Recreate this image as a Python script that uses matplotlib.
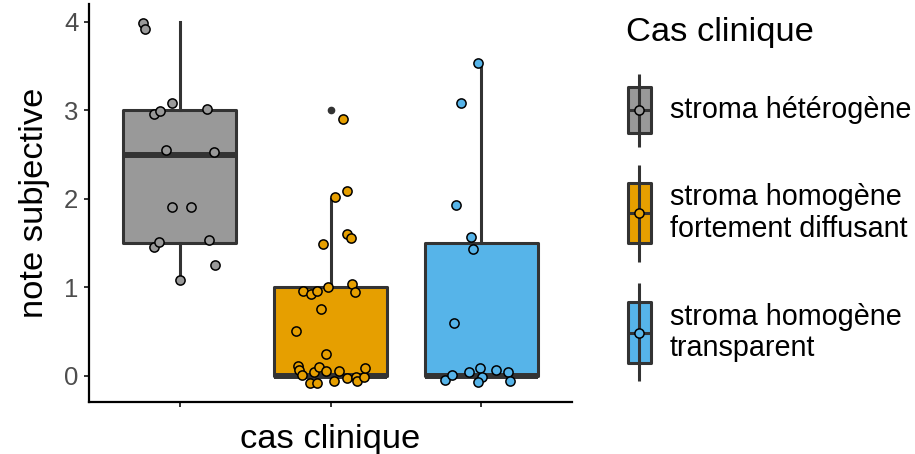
import numpy as np
import matplotlib
matplotlib.use("Agg")
import matplotlib.pyplot as plt
from matplotlib.patches import Rectangle

plt.rcParams['font.family'] = ['Liberation Sans', 'DejaVu Sans']

# groupes et couleurs
groups = ['stroma hétérogène', 'stroma homogène\nfortement diffusant', 'stroma homogène\ntransparent']
colors = ['#999999', '#E69F00', '#56B4E9']

# statistiques des boites
q1 = [1.5, 0.0, 0.0]
med = [2.5, 0.0, 0.0]
q3 = [3.0, 1.0, 1.5]
whislo = [1.08, 0.0, 0.0]
whishi = [4.0, 2.0, 3.5]
outliers = [[], [3.0], []]

# points jitter : decalage horizontal et note
jit_x1 = [-0.243, -0.228, -0.048, -0.171, -0.130, 0.184, -0.092, 0.228, -0.048, 0.079,
          -0.171, -0.138, 0.197, 0.237, 0.002]
jit_y1 = [3.99, 3.92, 3.08, 2.96, 2.99, 3.02, 2.55, 2.53, 1.91, 1.91,
          1.46, 1.51, 1.54, 1.25, 1.08]
jit_x2 = [0.081, 0.112, 0.031, 0.110, 0.134, -0.053, -0.018, 0.145, 0.164, -0.184,
          -0.132, -0.092, -0.061, -0.228, -0.033, -0.215, -0.209, -0.191, -0.136, -0.088,
          -0.110, -0.077, -0.028, 0.055, 0.024, 0.110, 0.169, 0.176, 0.219, 0.226]
jit_y2 = [2.90, 2.09, 2.02, 1.60, 1.56, 1.49, 1.00, 1.04, 0.95, 0.96,
          0.93, 0.96, 0.76, 0.51, 0.25, 0.11, 0.07, 0.01, -0.08, -0.08,
          0.04, 0.10, 0.06, 0.06, -0.06, -0.02, -0.01, -0.06, -0.01, 0.09]
jit_x3 = [-0.022, -0.138, -0.169, -0.072, -0.055, -0.184, -0.243, -0.193, -0.084, -0.007,
          0.007, -0.022, 0.097, 0.173, 0.191]
jit_y3 = [3.54, 3.08, 1.93, 1.57, 1.44, 0.60, -0.05, 0.01, 0.05, 0.09,
          -0.01, -0.07, 0.07, 0.05, -0.06]

jit_x = [jit_x1, jit_x2, jit_x3]
jit_y = [jit_y1, jit_y2, jit_y3]

W, H = 915, 454
fig = plt.figure(figsize=(W / 100, H / 100), dpi=100)
ax = fig.add_axes([89 / W, 1 - 402 / H, (572 - 89) / W, (402 - 4) / H])

edge = '#333333'
stats = []
for i in range(3):
    stats.append(dict(med=med[i], q1=q1[i], q3=q3[i], whislo=whislo[i], whishi=whishi[i],
                      fliers=outliers[i]))
bp = ax.bxp(stats, positions=[1, 2, 3], widths=0.75, patch_artist=True, showcaps=False,
            boxprops=dict(edgecolor=edge, linewidth=2.2),
            whiskerprops=dict(color=edge, linewidth=2.2),
            medianprops=dict(color=edge, linewidth=4.3, solid_capstyle='butt'),
            flierprops=dict(marker='o', markersize=4.5, markerfacecolor=edge,
                            markeredgecolor=edge))
for patch, c in zip(bp['boxes'], colors):
    patch.set_facecolor(c)
    patch.set_joinstyle('round')

for i in range(3):
    ax.scatter(np.array(jit_x[i]) + i + 1, jit_y[i], s=44, c=colors[i],
               edgecolors='black', linewidths=1.1, zorder=5)

ax.set_xlim(0.4, 3.6)
ax.set_ylim(-0.294, 4.203)
ax.set_xticks([1, 2, 3])
ax.set_xticklabels([])
ax.set_yticks([0, 1, 2, 3, 4])
for s in ['top', 'right']:
    ax.spines[s].set_visible(False)
for s in ['left', 'bottom']:
    ax.spines[s].set_linewidth(1.6)
    ax.spines[s].set_color('black')
ax.tick_params(length=3.6, width=1.4, color=edge, labelsize=18.5, labelcolor='#4D4D4D', pad=4)
ax.set_xlabel('cas clinique', fontsize=24.8, labelpad=8)
ax.set_ylabel('note subjective', fontsize=24.8, labelpad=10)

# legende dessinee a la main
lg = fig.add_axes([0, 0, 1, 1], zorder=10)
lg.set_xlim(0, W)
lg.set_ylim(H, 0)
lg.axis('off')
lg.text(626, 32, 'Cas clinique', fontsize=24.8, va='center', ha='left')
key_top = [74, 165, 283]
key_box_top = [87, 183, 302]
key_box_bot = [133, 243, 363]
key_bot = [147, 262, 381]
for i in range(3):
    cy = (key_box_top[i] + key_box_bot[i]) / 2
    lg.plot([639.3, 639.3], [key_top[i], key_bot[i]], color=edge, lw=2.2, solid_capstyle='butt')
    lg.add_patch(Rectangle((628, key_box_top[i]), 22.6, key_box_bot[i] - key_box_top[i],
                           facecolor=colors[i], edgecolor=edge, lw=2.2, joinstyle='round'))
    lg.plot([628, 650.6], [cy, cy], color=edge, lw=2.2, solid_capstyle='butt')
    lg.scatter([639.3], [cy], s=44, c=colors[i], edgecolors='black', linewidths=1.1, zorder=5)
    lg.text(670, cy, groups[i], fontsize=20.7, va='center', ha='left', linespacing=1.15)

fig.savefig('out.png', dpi=100)
